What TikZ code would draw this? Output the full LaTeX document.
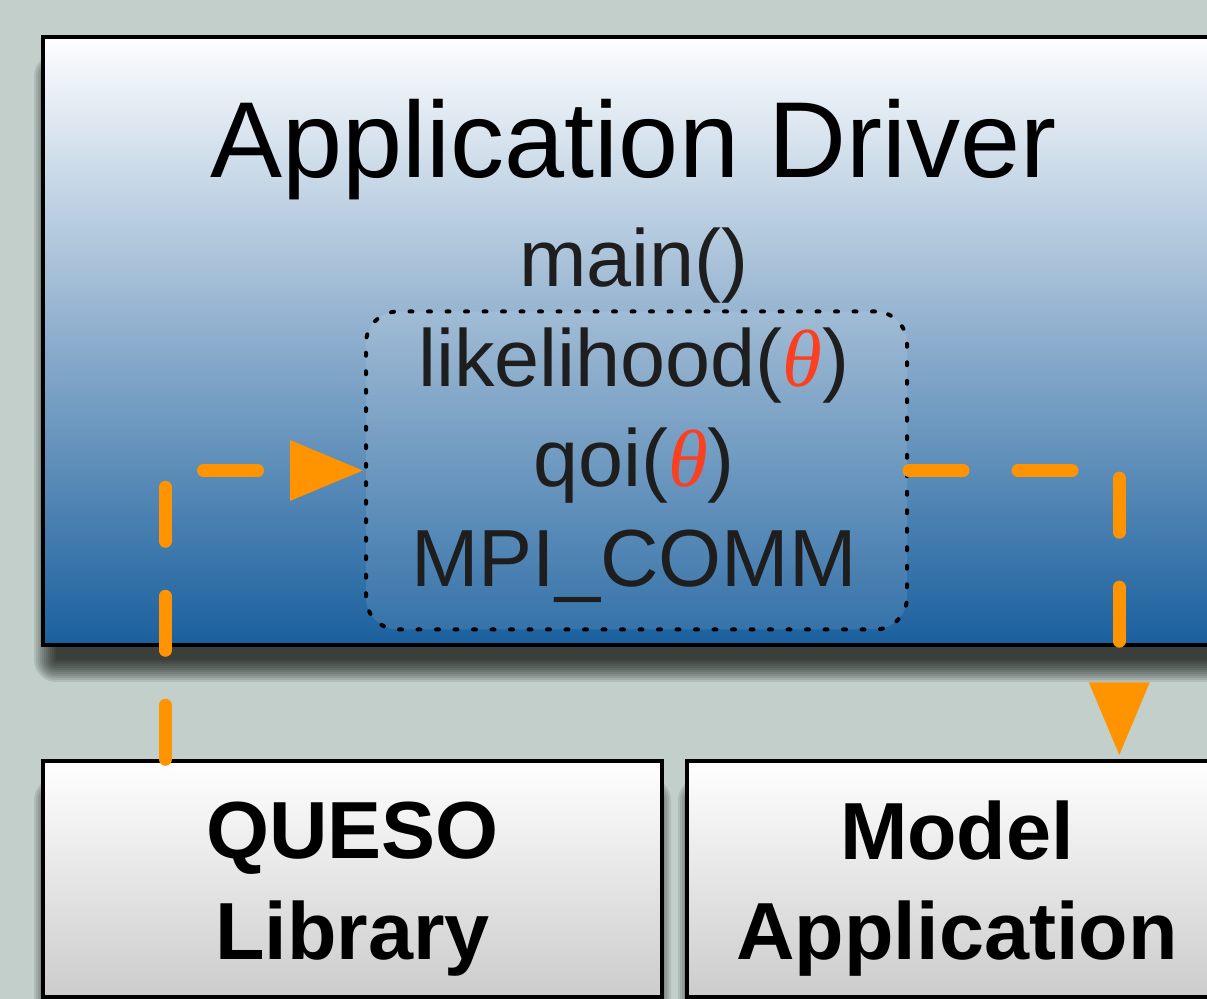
\documentclass[tikz,border=0pt]{standalone}
\usepackage{fontspec}
\setmainfont{Liberation Sans}
\newfontfamily\thetafont{Liberation Serif}
\usetikzlibrary{arrows.meta,calc}

\definecolor{bg}{RGB}{194,207,202}
\definecolor{topblue}{RGB}{253,254,255}
\definecolor{midblue}{RGB}{140,173,204}
\definecolor{botblue}{RGB}{26,96,158}
\definecolor{arrorange}{RGB}{255,148,0}
\definecolor{thetared}{RGB}{250,64,32}
\definecolor{txtdark}{RGB}{30,30,30}

\newcommand{\mytheta}{{\color{thetared}\thetafont\itshape θ}}
% soft shadow: stacked translucent rounded rectangles around a base rectangle
\newcommand{\softshadow}[4]{%
  \foreach \r in {0,2,...,22}{%
    \fill[black, opacity=0.09, rounded corners=\r*0.5pt] (#1-\r,#2-\r) rectangle (#3+\r,#4+\r);
  }%
}

\tikzset{
  panel/.style={draw=black, line width=1.7pt, inner sep=0pt},
  driverbox/.style={panel, top color=topblue, bottom color=botblue, middle color=midblue},
  libbox/.style={panel, top color=white, bottom color=black!20},
  bigtitle/.style={anchor=base, font=\fontsize{54}{60}\selectfont, text=black},
  codeline/.style={anchor=base, font=\fontsize{40.5}{48}\selectfont, text=txtdark, inner sep=0pt},
  boldline/.style={anchor=base, font=\fontsize{40.5}{50}\selectfont\bfseries, text=black},
  callbox/.style={draw=black, line width=2pt, dash pattern=on 1.5pt off 7.75pt, line cap=round,
    rounded corners=16pt, fill=white, fill opacity=0.1, draw opacity=1, inner sep=0pt},
  flow/.style={draw=arrorange, line width=6.5pt, line cap=round, dash pattern=on 27pt off 27.5pt,
    -{Triangle[length=37pt, width=28.5pt]}}
}

\begin{document}
\begin{tikzpicture}[x=0.5pt,y=-0.5pt]
\useasboundingbox (0,0) rectangle (1207,999);
\fill[bg] (0,0) rectangle (1207,999);

% shadows
\softshadow{56}{76}{1214}{660}
\softshadow{56}{800}{649}{1012}
\softshadow{700}{800}{1214}{1012}

% boxes
\node[driverbox, minimum width=592pt, minimum height=304pt] (driver) at (635,341) {};
\node[libbox, minimum width=309.5pt, minimum height=118pt] (queso) at (352.5,879) {};
\node[libbox, minimum width=270pt, minimum height=118pt] (model) at (957,879) {};

% texts
\node[bigtitle] (title) at (634,178) {Application Driver};
\node[callbox, minimum width=270.5pt, minimum height=159pt] (calls) at (636.5,470.5) {};
\node[codeline] (mainfn) at (634,287) {main()};
\node[codeline] (lik) at (634,387) {likelihood(\mytheta)};
\node[codeline] (qoi) at (634,487) {qoi(\mytheta)};
\node[codeline] (mpi) at (634,587) {MPI\_COMM};

\node[boldline] (queso1) at (352.5,859) {QUESO};
\node[boldline] (queso2) at (352.5,960) {Library};
\node[boldline] (model1) at (957,860) {Model};
\node[boldline] (model2) at (957,960) {Application};

% connectors
\coordinate (qstart) at ($(queso.north west)+(124,0)$);
\coordinate (mend) at ($(model.north west)+(434,-3)$);
\draw[flow] (qstart) |- (calls.west);
\draw[flow] (calls.east) -| (mend);
\end{tikzpicture}
\end{document}
